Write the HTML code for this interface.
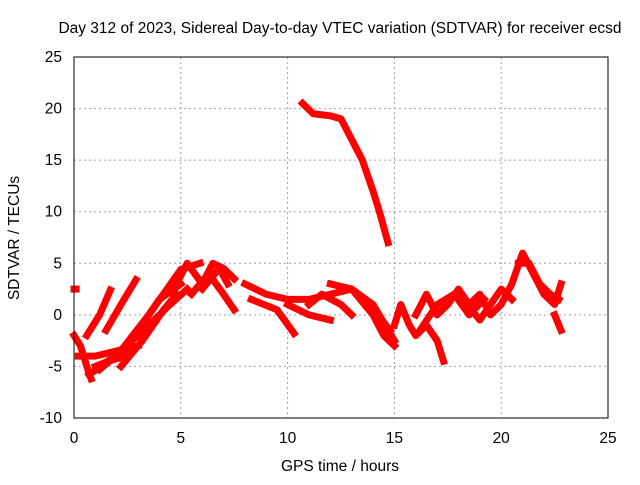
<!DOCTYPE html>
<html><head><meta charset="utf-8"><style>
body{margin:0;background:#fff}
svg text{font-family:"Liberation Sans",sans-serif;font-size:15.5px;fill:#000}
</style></head><body>
<svg id="c" width="640" height="480">
<rect width="640" height="480" fill="#fff"/>
<text x="340" y="33" text-anchor="middle">Day 312 of 2023, Sidereal Day-to-day VTEC variation (SDTVAR) for receiver ecsd</text>
<text x="340" y="471" text-anchor="middle">GPS time / hours</text>
<text transform="translate(19,238) rotate(-90)" text-anchor="middle">SDTVAR / TECUs</text>
<g id="grid"></g><g id="marks"></g>
<rect x="74" y="57" width="534" height="361" fill="none" stroke="#000" stroke-width="1"/>
</svg>
<script>
const xTicks=[0,5,10,15,20,25];
const yTicks=[-10,-5,0,5,10,15,20,25];
const track1=[[0,-2],[0.3,-3],[0.6,-5],[0.8,-6.2]];
const track2=[[0.6,-2],[1.2,0],[1.7,2.4]];
const track3=[[1.5,-1.5],[2.2,1],[2.9,3.4]];
const track4=[[0.7,-5.8],[2,-4],[3.5,0],[5,4.4],[5.9,5]];
const track5=[[1.2,-5.3],[2.5,-3],[4,1.5],[5,3]];
const track6=[[1.7,-4.3],[3,-2],[4.5,1],[5.3,2.5]];
const track7=[[0.2,-4],[1,-4],[2,-3.5],[3,-3]];
const track8=[[4.8,3],[5.3,5],[6,3],[6.5,5],[7,4.5],[7.5,3.5]];
const track9=[[5.5,2],[6.3,4],[7,2],[7.5,0.5]];
const track10=[[8,3],[9,2],[10,1.5],[11,1.5],[12,2],[13,2.5],[14,1],[15,-2.5]];
const track11=[[8.3,1.5],[9.5,0.5],[10.3,-1.8]];
const track12=[[10,1],[11,0],[12,-0.5]];
const track13=[[11,1],[11.6,2],[12.5,1],[13,0]];
const track14=[[12,3],[13,2.5],[14,0],[14.5,-2],[15,-3]];
const track15=[[15,-1],[15.3,1],[15.7,-1],[16,-2],[16.5,-1],[17,-2.5],[17.3,-4.5]];
const track16=[[16,0],[16.5,2],[17,0],[17.5,1],[18,2.5],[18.5,1],[19,2],[19.5,0],[20,1],[20.5,3],[21,6],[21.5,4],[22,2],[22.5,1],[22.8,3]];
const track17=[[18,2],[19,-0.5],[19.5,1],[20,2.5],[20.5,1.5]];
const track18=[[22.5,0],[22.8,-1.5]];
const track19=[[10.7,20.5],[11.2,19.5],[12,19.3],[12.5,19],[13,17],[13.5,15],[14,12],[14.3,10],[14.7,7]];
const track20=[[0,2.5],[0.1,2.5]];
const track21=[[2.2,-5],[3.2,-2.5],[4.2,0.5],[4.8,2]];
const track22=[[6,2.5],[6.8,4.5],[7.2,3]];
const track23=[[13.5,1.5],[14.2,0],[14.8,-1.5]];
const track24=[[16.2,-1.5],[17,1],[17.8,2],[18.5,0],[19.2,1.5]];
const track25=[[20.8,5],[21.3,5],[21.8,3],[22.3,2],[22.7,1.5]];
const track26=[[1,-5],[1.6,-4.5],[2.4,-4]];
const tracks=[track1,track2,track3,track4,track5,track6,track7,track8,track9,track10,track11,track12,track13,track14,track15,track16,track17,track18,track19,track20,track21,track22,track23,track24,track25,track26];
const X=h=>74+h*534/25, Y=v=>418-(v+10)*361/35;
const ns="http://www.w3.org/2000/svg";
const g=document.getElementById('grid'), m=document.getElementById('marks');
xTicks.forEach(t=>{
 if(t>0&&t<25){const l=document.createElementNS(ns,'line');
 
 
 l.setAttribute('x1',X(t));l.setAttribute('x2',X(t));l.setAttribute('y1',57);l.setAttribute('y2',418);
 l.setAttribute('stroke','#a0a0a0');l.setAttribute('stroke-dasharray','2,3');g.appendChild(l);}
 const tx=document.createElementNS(ns,'text');
 
 
 tx.setAttribute('x',X(t));tx.setAttribute('y',443);tx.setAttribute('text-anchor','middle');tx.textContent=t;g.appendChild(tx);
});
yTicks.forEach(t=>{
 if(t>-10&&t<25){const l=document.createElementNS(ns,'line');
 
 
 l.setAttribute('x1',74);l.setAttribute('x2',608);l.setAttribute('y1',Y(t));l.setAttribute('y2',Y(t));
 l.setAttribute('stroke','#a0a0a0');l.setAttribute('stroke-dasharray','2,3');g.appendChild(l);}
 const tx=document.createElementNS(ns,'text');
 
 
 tx.setAttribute('x',62);tx.setAttribute('y',Y(t)+5);tx.setAttribute('text-anchor','end');tx.textContent=t;g.appendChild(tx);
});
tracks.forEach(tr=>{
 const p=document.createElementNS(ns,'polyline');
 
 
 p.setAttribute('points',tr.map(d=>X(d[0])+','+Y(d[1])).join(' '));
 p.setAttribute('fill','none');p.setAttribute('stroke','#ff0000');p.setAttribute('stroke-width','7');
 p.setAttribute('stroke-linejoin','round');p.setAttribute('stroke-linecap','square');
 m.appendChild(p);
});
</script>
</body></html>
